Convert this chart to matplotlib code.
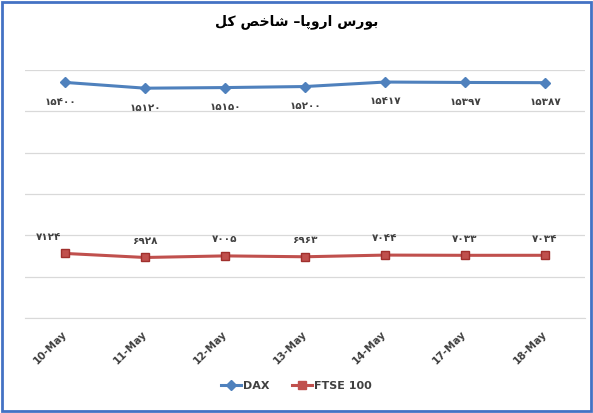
import numpy as np
import matplotlib.pyplot as plt
from matplotlib.lines import Line2D
from matplotlib.patches import Rectangle

dates = ["10-May", "11-May", "12-May", "13-May", "14-May", "17-May", "18-May"]
dax = [15400, 15120, 15150, 15200, 15417, 15397, 15387]
ftse = [7124, 6928, 7005, 6963, 7044, 7033, 7034]

# title "بورس اروپا– شاخص کل" in visual order, presentation forms
title = ("\uFEDE\uFB90 \uFEBA\uFEA7\uFE8E\uFEB7 \u2013\uFE8E\uFB58\uFEED\uFEAD\uFE8D "
         "\uFEB1\uFEAD\uFEEE\uFE91")

PERSIAN = str.maketrans("0123456789", "\u06F0\u06F1\u06F2\u06F3\u06F4\u06F5\u06F6\u06F7\u06F8\u06F9")


def fa(n):
    return str(n).translate(PERSIAN)


blue = "#4F81BD"
red = "#C0504D"

fig = plt.figure(figsize=(5.93, 4.13), dpi=100)
ax = fig.add_axes([25 / 593, 1 - 318 / 413, 560 / 593, 248 / 413])

x = np.arange(len(dates))
ax.plot(x, dax, color=blue, lw=2.2, marker="D", ms=5.5, mfc=blue, mec=blue)
ax.plot(x, ftse, color=red, lw=2.2, marker="s", ms=6, mfc=red, mec="#A0302D")

for i in x:
    ax.annotate(fa(dax[i]), (i, dax[i]), xytext=(-3 if i == 0 else 0, -14),
                textcoords="offset points", ha="center", va="center", fontsize=7.5,
                fontweight="bold", color="#404040", family="DejaVu Sans")
    ax.annotate(fa(ftse[i]), (i, ftse[i]), xytext=(-12 if i == 0 else 0, 12),
                textcoords="offset points", ha="center", va="center", fontsize=7.5,
                fontweight="bold", color="#404040", family="DejaVu Sans")

ax.set_xlim(-0.5, len(dates) - 0.5)
ax.set_ylim(4000, 16000)
ax.set_yticks(np.arange(4000, 16001, 2000))
ax.yaxis.grid(True, color="#D9D9D9", lw=0.9)
ax.set_axisbelow(True)
ax.tick_params(axis="y", left=False, labelleft=False)
ax.tick_params(axis="x", length=0, pad=10)
ax.set_xticks(x)
ax.set_xticklabels(dates, rotation=45, ha="right", va="center", rotation_mode="anchor",
                   fontsize=7.5, fontweight="bold", color="#404040")
for s in ["top", "right", "left"]:
    ax.spines[s].set_visible(False)
ax.spines["bottom"].set_color("#D9D9D9")

fig.text(0.5, 1 - 22 / 413, title, ha="center", va="center", fontsize=10,
         fontweight="bold", family="DejaVu Sans")

handles = [
    Line2D([], [], color=blue, lw=2.2, marker="D", ms=5, mfc=blue, mec=blue),
    Line2D([], [], color=red, lw=2.2, marker="s", ms=5.5, mfc=red, mec=red),
]
fig.legend(handles, ["DAX", "FTSE 100"], loc="center", bbox_to_anchor=(0.5, 1 - 386 / 413),
           ncol=2, frameon=False, handlelength=1.8, handletextpad=0.2, columnspacing=2.0,
           prop={"size": 8, "weight": "bold"}, labelcolor="#404040")

fig.patches.append(Rectangle((0.004, 0.004), 0.992, 0.99, transform=fig.transFigure,
                             fill=False, edgecolor="#4472C4", lw=2.0))

fig.savefig("out.png", dpi=100)
